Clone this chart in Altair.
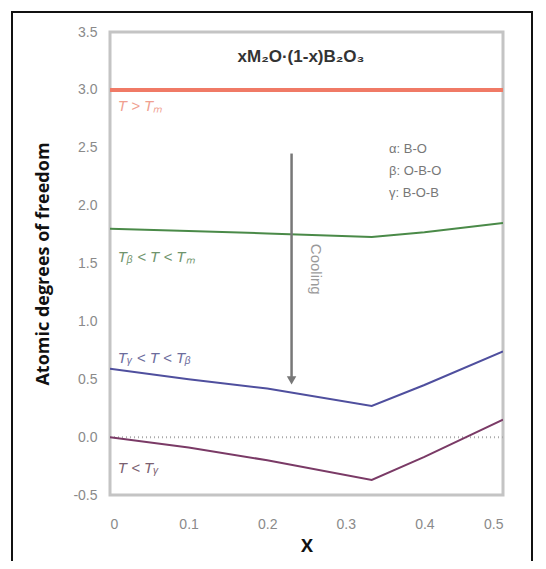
import altair as alt
import pandas as pd

# ---- data ----
x_vals = [0.0, 0.1, 0.2, 0.333, 0.4, 0.5]
s_high = [3.0, 3.0, 3.0, 3.0, 3.0, 3.0]
s_beta = [1.80, 1.78, 1.76, 1.73, 1.77, 1.85]
s_gamma = [0.59, 0.50, 0.42, 0.27, 0.45, 0.74]
s_low = [0.0, -0.09, -0.20, -0.37, -0.17, 0.15]
series_names = ["high", "beta", "gamma", "low"]
series_colors = ["#f07a66", "#4a8a48", "#4f4f9e", "#7a3a66"]

labels_text = ["T > Tₘ", "Tᵦ < T < Tₘ", "Tᵧ < T < Tᵦ", "T < Tᵧ"]
labels_x = [0.01, 0.01, 0.01, 0.01]
labels_y = [2.86, 1.56, 0.68, -0.27]
labels_color = ["#f0a090", "#6f946c", "#6c6c9c", "#7a6070"]

legend_text = ["α: B-O", "β: O-B-O", "γ: B-O-B"]
legend_x = [0.355, 0.355, 0.355]
legend_y = [2.49, 2.30, 2.11]

title_text = "xM₂O·(1-x)B₂O₃"
x_ticks = [0, 0.1, 0.2, 0.3, 0.4, 0.5]
y_ticks = [-0.5, 0.0, 0.5, 1.0, 1.5, 2.0, 2.5, 3.0, 3.5]

W, H = 393, 463

rows = []
for name, vals in zip(series_names, [s_high, s_beta, s_gamma, s_low]):
    for xv, yv in zip(x_vals, vals):
        rows.append({"x": xv, "y": yv, "s": name})
df = pd.DataFrame(rows)

xs = alt.Scale(domain=[0, 0.5], nice=False)
ys = alt.Scale(domain=[-0.5, 3.5], nice=False)

xaxis = alt.Axis(values=x_ticks, labelExpr="datum.value == 0 ? '0' : format(datum.value, '.1f')",
                 grid=False, ticks=False, domain=False, labelColor="#8a8a8a", labelFontSize=14,
                 labelFont="Liberation Sans", labelPadding=22, title="X", titleFontSize=18,
                 titleFont="Open Sans", titleFontWeight="bold", titleColor="#111", titlePadding=6)
yaxis = alt.Axis(values=y_ticks, labelExpr="replace(format(datum.value, '.1f'), '−', '-')",
                 grid=False, ticks=False, domain=False,
                 labelColor="#8a8a8a", labelFontSize=14, labelFont="Liberation Sans",
                 labelPadding=13, title="Atomic degrees of freedom", titleFontSize=18,
                 titleFont="Open Sans", titleFontWeight="bold", titleColor="#111", titlePadding=20)

lines = alt.Chart(df).mark_line(clip=True).encode(
    x=alt.X("x:Q", scale=xs, axis=xaxis),
    y=alt.Y("y:Q", scale=ys, axis=yaxis),
    color=alt.Color("s:N", scale=alt.Scale(domain=series_names, range=series_colors), legend=None),
    strokeWidth=alt.condition(alt.datum.s == "high", alt.value(4), alt.value(2)),
)

zero = alt.Chart(pd.DataFrame({"y": [0.0]})).mark_rule(
    color="#aaaaaa", strokeDash=[1, 3], strokeWidth=2).encode(y=alt.Y("y:Q", scale=ys))

arrow_df = pd.DataFrame({"x": [0.231], "y": [2.45], "y2": [0.52]})
arrow = alt.Chart(arrow_df).mark_rule(color="#777777", strokeWidth=2.5).encode(
    x=alt.X("x:Q", scale=xs), y=alt.Y("y:Q", scale=ys), y2="y2:Q")
head = alt.Chart(pd.DataFrame({"x": [0.231], "y": [0.49]})).mark_point(
    shape="triangle-down", filled=True, color="#777777", size=90, opacity=1).encode(
    x=alt.X("x:Q", scale=xs), y=alt.Y("y:Q", scale=ys))
cooling = alt.Chart(pd.DataFrame({"x": [0.262], "y": [1.45], "t": ["Cooling"]})).mark_text(
    angle=90, fontSize=15, color="#9a9a9a", font="Liberation Sans").encode(
    x=alt.X("x:Q", scale=xs), y=alt.Y("y:Q", scale=ys), text="t:N")

lab_df = pd.DataFrame({"x": labels_x, "y": labels_y, "t": labels_text, "c": labels_color})
labels = alt.Chart(lab_df).mark_text(align="left", fontSize=15, fontStyle="italic",
                                     font="Liberation Sans").encode(
    x=alt.X("x:Q", scale=xs), y=alt.Y("y:Q", scale=ys), text="t:N",
    color=alt.Color("c:N", scale=None))

leg_df = pd.DataFrame({"x": legend_x, "y": legend_y, "t": legend_text})
legend = alt.Chart(leg_df).mark_text(align="left", fontSize=13, color="#777777",
                                     font="Liberation Sans").encode(
    x=alt.X("x:Q", scale=xs), y=alt.Y("y:Q", scale=ys), text="t:N")

title = alt.Chart(pd.DataFrame({"x": [0.243], "y": [3.28], "t": [title_text]})).mark_text(
    fontSize=17, fontWeight="bold", color="#333333", font="Liberation Sans").encode(
    x=alt.X("x:Q", scale=xs), y=alt.Y("y:Q", scale=ys), text="t:N")

border = alt.Chart(pd.DataFrame({"a": [0]})).mark_rect(
    fill=None, stroke="#111111", strokeWidth=2, clip=False).encode(
    x=alt.value(-98), x2=alt.value(422), y=alt.value(-20), y2=alt.value(560))

chart = alt.layer(border, zero, lines, arrow, head, cooling, labels, legend, title).properties(
    width=W, height=H,
    autosize=alt.AutoSizeParams(type="none"),
    padding={"left": 102, "top": 24, "right": 35, "bottom": 66},
).configure_view(stroke="#c4c4c4", strokeWidth=3)

chart.save("out.html", embed_options={"renderer": "svg", "actions": False})
